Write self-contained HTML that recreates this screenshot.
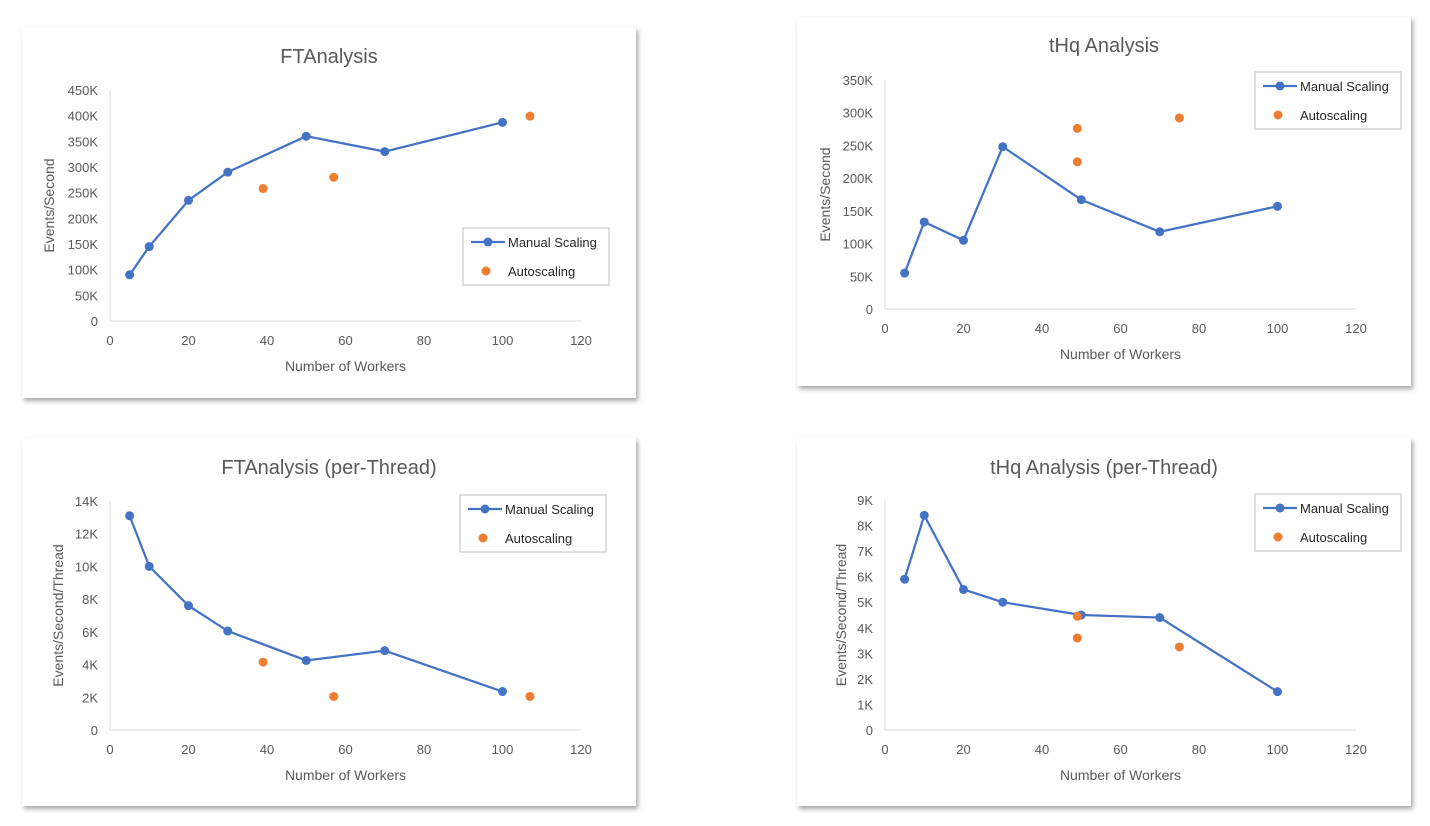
<!DOCTYPE html>
<html><head><meta charset="utf-8"><style>
html,body{margin:0;padding:0;background:#fff;width:1430px;height:826px;overflow:hidden}
svg{display:block;font-family:"Liberation Sans",sans-serif}
</style></head><body>
<svg id="root" width="1430" height="826">
<defs><filter id="sh" x="-5%" y="-5%" width="110%" height="115%"><feDropShadow dx="2" dy="3" stdDeviation="2.5" flood-color="#000" flood-opacity="0.35"/></filter></defs>
</svg>
<script>
// Chart 1: FTAnalysis
const ftManualX = [5,10,20,30,50,70,100];
const ftManualY = [90000,145000,235000,290000,360000,330000,387000];
const ftAutoX = [39,57,107];
const ftAutoY = [258000,280000,399000];
const ftYTicks = [0,50000,100000,150000,200000,250000,300000,350000,400000,450000];
const ftYLabels = ['0','50K','100K','150K','200K','250K','300K','350K','400K','450K'];
// Chart 2: tHq Analysis
const thqManualX = [5,10,20,30,50,70,100];
const thqManualY = [55000,133000,105000,248000,167000,118000,157000];
const thqAutoX = [49,49,75];
const thqAutoY = [276000,225000,292000];
const thqYTicks = [0,50000,100000,150000,200000,250000,300000,350000];
const thqYLabels = ['0','50K','100K','150K','200K','250K','300K','350K'];
// Chart 3: FTAnalysis per thread
const ftpManualX = [5,10,20,30,50,70,100];
const ftpManualY = [13100,10000,7600,6050,4250,4850,2350];
const ftpAutoX = [39,57,107];
const ftpAutoY = [4150,2050,2050];
const ftpYTicks = [0,2000,4000,6000,8000,10000,12000,14000];
const ftpYLabels = ['0','2K','4K','6K','8K','10K','12K','14K'];
// Chart 4: tHq per thread
const thpManualX = [5,10,20,30,50,70,100];
const thpManualY = [5900,8400,5500,5000,4500,4400,1500];
const thpAutoX = [49,49,75];
const thpAutoY = [4450,3600,3250];
const thpYTicks = [0,1000,2000,3000,4000,5000,6000,7000,8000,9000];
const thpYLabels = ['0','1K','2K','3K','4K','5K','6K','7K','8K','9K'];
const xTicks = [0,20,40,60,80,100,120];
const xLabels = ['0','20','40','60','80','100','120'];

const NS='http://www.w3.org/2000/svg';
const root=document.getElementById('root');
function mk(tag,attrs,parent){const e=document.createElementNS(NS,tag);for(const k in attrs)e.setAttribute(k,attrs[k]);parent.appendChild(e);return e;}

function chart(o){
  const g=mk('g',{},root);
  
  
  const bg=mk('rect',{x:o.px,y:o.py,width:o.pw,height:o.ph,fill:'#fff',filter:'url(#sh)'},g);
  
  
  const yMax=o.yTicks[o.yTicks.length-1];
  const sx=v=>o.x0+(v/120)*(o.x1-o.x0);
  const sy=v=>o.y0-(v/yMax)*(o.y0-o.y1);
  const t=mk('text',{x:(o.px+o.pw/2),y:o.ty,'text-anchor':'middle','font-size':20,fill:'#595959'},g);
  t.textContent=o.title;
  
  
  const ya=mk('line',{x1:o.x0,y1:sy(yMax),x2:o.x0,y2:o.y0,stroke:'#d9d9d9','stroke-width':1},g);
  
  
  const xa=mk('line',{x1:o.x0,y1:o.y0,x2:o.x1,y2:o.y0,stroke:'#d9d9d9','stroke-width':1},g);
  
  
  o.yTicks.forEach((v,i)=>{
    const l=mk('text',{x:o.x0-12,y:sy(v)+5,'text-anchor':'end','font-size':13,fill:'#595959'},g);
    l.textContent=o.yLabels[i];
    
    
  });
  xTicks.forEach((v,i)=>{
    const l=mk('text',{x:sx(v),y:o.y0+24,'text-anchor':'middle','font-size':13,fill:'#595959'},g);
    l.textContent=xLabels[i];
    
    
  });
  const xt=mk('text',{x:(o.x0+o.x1)/2,y:o.y0+50,'text-anchor':'middle','font-size':14,fill:'#595959'},g);
  xt.textContent='Number of Workers';
  
  
  const ytx=o.ytx, yty=(o.y0+sy(yMax))/2;
  const yt=mk('text',{x:ytx,y:yty,'text-anchor':'middle','font-size':14,fill:'#595959',transform:`rotate(-90 ${ytx} ${yty})`},g);
  yt.textContent=o.yTitle;
  
  
  const pts=o.mx.map((x,i)=>sx(x)+','+sy(o.my[i])).join(' ');
  const pl=mk('polyline',{points:pts,fill:'none',stroke:'#4472c4','stroke-width':2.25},g);
  
  
  o.mx.forEach((x,i)=>{
    const c=mk('circle',{cx:sx(x),cy:sy(o.my[i]),r:4.5,fill:'#4472c4'},g);
    
    
  });
  o.ax.forEach((x,i)=>{
    const c=mk('circle',{cx:sx(x),cy:sy(o.ay[i]),r:4.5,fill:'#ed7d31'},g);
    
    
  });
  const lg=mk('g',{},g);
  
  
  mk('rect',{x:o.lx,y:o.ly,width:146,height:57,fill:'#fff',stroke:'#bfbfbf','stroke-width':1},lg);
  mk('line',{x1:o.lx+8,y1:o.ly+14,x2:o.lx+42,y2:o.ly+14,stroke:'#4472c4','stroke-width':2.25},lg);
  mk('circle',{cx:o.lx+25,cy:o.ly+14,r:4.5,fill:'#4472c4'},lg);
  const l1=mk('text',{x:o.lx+45,y:o.ly+19,'font-size':13,fill:'#262626'},lg);
  l1.textContent='Manual Scaling';
  
  
  mk('circle',{cx:o.lx+23,cy:o.ly+43,r:4.5,fill:'#ed7d31'},lg);
  const l2=mk('text',{x:o.lx+45,y:o.ly+48,'font-size':13,fill:'#262626'},lg);
  l2.textContent='Autoscaling';
  
  
}
chart({name:'ftanalysis-chart',title:'FTAnalysis',px:22,py:27,pw:614,ph:371,ty:63,x0:110,x1:581,y0:321,y1:90,ytx:54,yTitle:'Events/Second',mx:ftManualX,my:ftManualY,ax:ftAutoX,ay:ftAutoY,yTicks:ftYTicks,yLabels:ftYLabels,lx:463,ly:228});
chart({name:'thq-analysis-chart',title:'tHq Analysis',px:797,py:17,pw:614,ph:369,ty:52,x0:885,x1:1356,y0:309,y1:80,ytx:830,yTitle:'Events/Second',mx:thqManualX,my:thqManualY,ax:thqAutoX,ay:thqAutoY,yTicks:thqYTicks,yLabels:thqYLabels,lx:1255,ly:72});
chart({name:'ftanalysis-per-thread-chart',title:'FTAnalysis (per-Thread)',px:22,py:438,pw:614,ph:368,ty:474,x0:110,x1:581,y0:730,y1:501,ytx:63,yTitle:'Events/Second/Thread',mx:ftpManualX,my:ftpManualY,ax:ftpAutoX,ay:ftpAutoY,yTicks:ftpYTicks,yLabels:ftpYLabels,lx:460,ly:495});
chart({name:'thq-analysis-per-thread-chart',title:'tHq Analysis (per-Thread)',px:797,py:438,pw:614,ph:368,ty:474,x0:885,x1:1356,y0:730,y1:500,ytx:846,yTitle:'Events/Second/Thread',mx:thpManualX,my:thpManualY,ax:thpAutoX,ay:thpAutoY,yTicks:thpYTicks,yLabels:thpYLabels,lx:1255,ly:494});
</script>
</body></html>
